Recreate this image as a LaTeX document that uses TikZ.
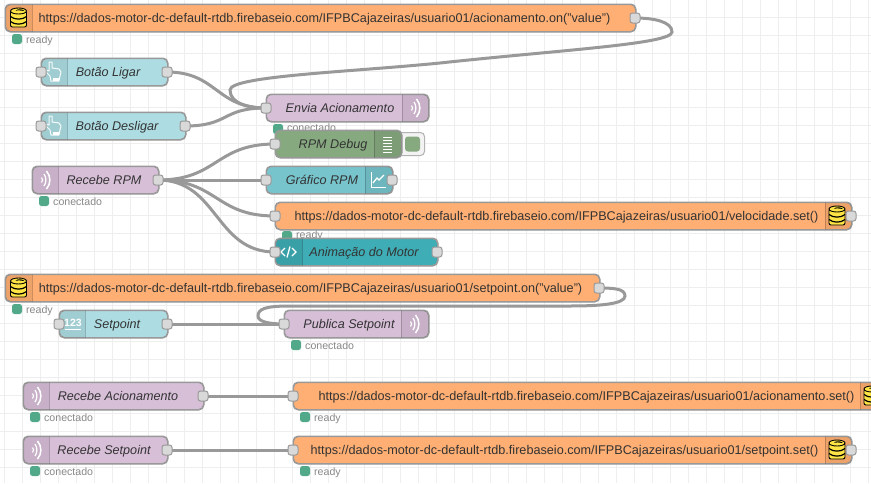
\documentclass[tikz,border=0pt]{standalone}
\usepackage{fontspec}
\setmainfont{Liberation Sans}
\usetikzlibrary{calc}
\pgfdeclarelayer{gridlayer}
\pgfdeclarelayer{wirelayer}
\pgfsetlayers{gridlayer,wirelayer,main}
\definecolor{fborange}{HTML}{FFAF73}
\definecolor{injectblue}{HTML}{ADDDE3}
\definecolor{mqttpurple}{HTML}{D8BFD8}
\definecolor{debuggreen}{HTML}{87A980}
\definecolor{chartblue}{HTML}{77C4CD}
\definecolor{tmplteal}{HTML}{3FADB5}
\definecolor{edgegray}{HTML}{999999}
\definecolor{portgray}{HTML}{D9D9D9}
\definecolor{statgreen}{HTML}{52A98A}
\definecolor{labelgray}{HTML}{333333}
\definecolor{statgray}{HTML}{888888}
\definecolor{gridgray}{HTML}{EEEEEE}
\definecolor{dbyellow}{HTML}{FFE445}
\tikzset{
  box/.style={draw=edgegray,line width=1pt,rounded corners=5pt,inner sep=0pt,minimum height=27pt,anchor=west},
  port/.style={draw=edgegray,fill=portgray,line width=1pt,rounded corners=2.5pt,inner sep=0pt,minimum width=10pt,minimum height=10pt},
  wire/.style={draw=edgegray,line width=3pt},
  lab/.style={text=labelgray,inner sep=0pt,text height=10pt,text depth=3pt,yshift=-1pt,font=\fontsize{12.6}{14}\selectfont\itshape},
  url/.style={text=labelgray,inner sep=0pt,text height=10pt,text depth=3pt,yshift=-1pt,font=\fontsize{12.65}{14}\selectfont},
  stat/.style={text=statgray,inner sep=0pt,text height=8pt,text depth=2.5pt,yshift=-1.5pt,anchor=west,font=\fontsize{10.6}{12}\selectfont},
  dot/.style={fill=statgreen,draw=none,rounded corners=2.5pt,inner sep=0pt,minimum size=10pt},
}
% name, left x, width, centre y, colour, divider x
\newcommand{\flownode}[6]{%
  \node[box,fill=#5,minimum width=#3pt] (#1) at (#2,#4) {};
  \begin{scope}
    \clip[rounded corners=5pt] (#1.north west) rectangle (#1.south east);
    \ifdim #6pt<\dimexpr #2pt+#3pt/2\relax
      \fill[black,opacity=.07] (#1.north west) rectangle (#6,#4+14);
    \else
      \fill[black,opacity=.07] (#6,#4-14) rectangle (#1.south east);
    \fi
    \draw[black,opacity=.2,line width=1pt] (#6,#4-14) -- (#6,#4+14);
  \end{scope}
  \draw[edgegray,line width=1pt,rounded corners=5pt] (#1.north west) rectangle (#1.south east);
}
\newcommand{\statusmark}[4]{% name, x, y, text
  \node[dot] (#1) at (#2,#3) {};
  \node[stat] (#1t) at (#2+9,#3) {#4};
}
\newcommand{\dbicon}[2]{%
  \begin{scope}[shift={(#1,#2)}]
    \draw[black,line width=.9pt,fill=dbyellow,rounded corners=2pt] (-8,-7) rectangle (8,9);
    \draw[black,line width=1.2pt] (-8,-1.5) .. controls (-4,2) and (4,2) .. (8,-1.5);
    \draw[black,line width=1.2pt] (-8,3.5) .. controls (-4,7) and (4,7) .. (8,3.5);
    \draw[black,line width=.9pt,fill=dbyellow] (0,-7) ellipse [x radius=8,y radius=3];
    \fill[black] (-3,-7.5) .. controls (0,-9.5) and (4,-9) .. (6,-7) .. controls (3,-7.6) and (0,-7.6) .. (-3,-7.5);
  \end{scope}}
\newcommand{\wifiicon}[2]{%
  \begin{scope}[shift={(#1,#2)}]
    \draw[white,line width=1.2pt] (-3.5,-2.5) .. controls (-2,-1) and (-2,1) .. (-3.5,2.5);
    \draw[white,line width=1.3pt] (-1,-6) .. controls (1.5,-2.5) and (1.5,2.5) .. (-1,6);
    \draw[white,line width=1.5pt] (1.5,-9) .. controls (6,-3.5) and (6,3.5) .. (1.5,9);
  \end{scope}}
\newcommand{\handicon}[2]{%
  \begin{scope}[shift={(#1,#2)}]
    \draw[white,opacity=.9,line width=1pt,line join=round] (-5,-10) -- (-2,-10) -- (-2,-4) -- (5,-3) -- (7,0) -- (6,4) -- (5,9) -- (-3,9) -- (-4,4) -- (-8,0) -- (-8,-2) -- (-5,-1) -- cycle;
    \fill[white] (-1,6) rectangle (5,9);
  \end{scope}}
\begin{document}
\begin{tikzpicture}[x=1pt,y=-1pt]
\useasboundingbox (0,0) rectangle (871,483);
\clip (0,0) rectangle (871,483);

\flownode{envia}{266}{162}{108}{mqttpurple}{402}
\node[lab] (enviat) at (340,107.5) {Envia Acionamento};
\wifiicon{415}{108}
\node[port] (enviaL) at (266,108) {};
\node[dot] (enviaS) at (278,129) {};
\node[stat,yshift=1.5pt] (enviaSt) at (287,129) {conectado};

\flownode{fb1}{5}{630}{18}{fborange}{32}
\node[url] (fb1t) at (324.5,17.5) {https://dados-motor-dc-default-rtdb.firebaseio.com/IFPBCajazeiras/usuario01/acionamento.on("value")};
\dbicon{18.5}{18}
\node[port] (fb1R) at (635,18) {};
\statusmark{fb1S}{17}{39}{ready}

\flownode{bl}{41}{126}{72}{injectblue}{67}
\node[lab] (blt) at (108,71.5) {Botão Ligar};
\handicon{54}{72}
\node[port] (blL) at (41,72) {};
\node[port] (blR) at (167,72) {};

\flownode{bd}{41}{144}{126}{injectblue}{67}
\node[lab] (bdt) at (117,125.5) {Botão Desligar};
\handicon{54}{126}
\node[port] (bdL) at (41,126) {};
\node[port] (bdR) at (185,126) {};

\node[draw=edgegray!75,fill=gridgray!70,line width=1pt,rounded corners=4pt,minimum width=29pt,minimum height=23pt,inner sep=0pt] (btn) at (410,144) {};
\node[fill=debuggreen,rounded corners=3pt,minimum width=15pt,minimum height=15pt,inner sep=0pt] (btnin) at (412.5,144) {};
\flownode{dbg}{275}{126}{144}{debuggreen}{374}
\node[lab] (dbgt) at (333,143.5) {RPM Debug};
\foreach \yy in {137,140,143,146,149,152} \draw[white,line width=1pt] (383,\yy) -- (392,\yy);
\node[port] (dbgL) at (275,144) {};

\flownode{rr}{32}{126}{180}{mqttpurple}{58}
\node[lab] (rrt) at (104,179.5) {Recebe RPM};
\wifiicon{45}{180}
\node[port] (rrR) at (158,180) {};
\statusmark{rrS}{44}{201}{conectado}

\flownode{graf}{266}{126}{180}{chartblue}{365}
\node[lab] (graft) at (322,179.5) {Gráfico RPM};
\begin{scope}[shift={(378,180)}]
  \draw[white,line width=1pt] (-7,-8) -- (-7,7) -- (8,7);
  \draw[white,line width=1.3pt] (-5,3) -- (-1,-2) -- (1,0) -- (6,-5);
\end{scope}
\node[port] (grafL) at (266,180) {};
\node[port] (grafR) at (392,180) {};

\node[dot] (fb2S) at (287,236) {};
\node[stat,yshift=1.5pt] (fb2St) at (296,236) {ready};
\flownode{fb2}{275}{576}{216}{fborange}{825}
\node[url] (fb2t) at (556.5,215.5) {https://dados-motor-dc-default-rtdb.firebaseio.com/IFPBCajazeiras/usuario01/velocidade.set()};
\dbicon{837}{216}
\node[port] (fb2L) at (275,216) {};
\node[port] (fb2R) at (851,216) {};

\flownode{anim}{275}{162}{252}{tmplteal}{302}
\node[lab] (animt) at (364,251.5) {Animação do Motor};
\draw[white,line width=1.3pt] (285,248) -- (281,252) -- (285,256);
\draw[white,line width=1.3pt] (292,248) -- (296,252) -- (292,256);
\draw[white,line width=1.3pt] (290,246.5) -- (287,257.5);
\node[port] (animL) at (275,252) {};
\node[port] (animR) at (437,252) {};

\flownode{fb3}{5}{594}{288}{fborange}{32}
\node[url] (fb3t) at (310.5,287.5) {https://dados-motor-dc-default-rtdb.firebaseio.com/IFPBCajazeiras/usuario01/setpoint.on("value")};
\dbicon{18.5}{288}
\node[port] (fb3R) at (599,288) {};
\statusmark{fb3S}{17}{309}{ready}

\flownode{sp}{59}{108}{324}{injectblue}{85}
\node[lab] (spt) at (117,323.5) {Setpoint};
\node[text=white,inner sep=0pt,font=\fontsize{10.5}{11}\selectfont\bfseries] (spi) at (73,323) {123};
\draw[white,line width=1.2pt] (65,329.5) -- (81,329.5);
\node[port] (spL) at (59,324) {};
\node[port] (spR) at (167,324) {};

\flownode{pub}{284}{144}{324}{mqttpurple}{401}
\node[lab] (pubt) at (349,323.5) {Publica Setpoint};
\wifiicon{414}{324}
\node[port] (pubL) at (284,324) {};
\statusmark{pubS}{296}{345}{conectado}

\flownode{ra}{23}{180}{396}{mqttpurple}{49}
\node[lab] (rat) at (118,395.5) {Recebe Acionamento};
\wifiicon{36}{396}
\node[port] (raR) at (203,396) {};
\statusmark{raS}{35}{417}{conectado}

\flownode{fb4}{293}{594}{396}{fborange}{860}
\node[url] (fb4t) at (586.5,395.5) {https://dados-motor-dc-default-rtdb.firebaseio.com/IFPBCajazeiras/usuario01/acionamento.set()};
\dbicon{872}{396}
\node[port] (fb4L) at (293,396) {};
\statusmark{fb4S}{305}{417}{ready}

\flownode{rs}{23}{144}{450}{mqttpurple}{49}
\node[lab] (rst) at (104,449.5) {Recebe Setpoint};
\wifiicon{36}{450}
\node[port] (rsR) at (167,450) {};
\statusmark{rsS}{35}{471}{conectado}

\flownode{fb5}{293}{558}{450}{fborange}{825}
\node[url] (fb5t) at (564.5,449.5) {https://dados-motor-dc-default-rtdb.firebaseio.com/IFPBCajazeiras/usuario01/setpoint.set()};
\dbicon{837}{450}
\node[port] (fb5L) at (293,450) {};
\node[port] (fb5R) at (851,450) {};
\statusmark{fb5S}{305}{471}{ready}

\begin{pgfonlayer}{gridlayer}
  \fill[white] (0,0) rectangle (871,483);
  \foreach \gx in {0,...,48} \draw[gridgray,line width=1pt] ({4.5+18*\gx},0) -- ({4.5+18*\gx},483);
  \foreach \gy in {0,...,26} \draw[gridgray,line width=1pt] (0,{17.5+18*\gy}) -- (871,{17.5+18*\gy});
\end{pgfonlayer}

\begin{pgfonlayer}{wirelayer}
  \draw[wire] (fb1R.center) .. controls (655,18) and (672,22) .. (672,32)
     .. controls (672,44) and (560,50) .. (440,63)
     .. controls (350,72) and (230,76) .. (230,90)
     .. controls (230,104) and (250,108) .. (enviaL.center);
  \draw[wire] (blR.center) .. controls +(50,0) and +(-50,0) .. (enviaL.center);
  \draw[wire] (bdR.center) .. controls +(45,0) and +(-45,0) .. (enviaL.center);
  \draw[wire] (rrR.center) .. controls +(60,0) and +(-60,0) .. (dbgL.center);
  \draw[wire] (rrR.center) -- (grafL.center);
  \draw[wire] (rrR.center) .. controls +(60,0) and +(-60,0) .. (fb2L.center);
  \draw[wire] (rrR.center) .. controls +(60,0) and +(-60,0) .. (animL.center);
  \draw[wire] (fb3R.center) .. controls (615,288) and (625,289) .. (625,296)
     .. controls (625,304) and (600,306) .. (570,306)
     -- (290,306) .. controls (265,306) and (258,309) .. (258,316)
     .. controls (258,322) and (270,324) .. (pubL.center);
  \draw[wire] (spR.center) -- (pubL.center);
  \draw[wire] (raR.center) -- (fb4L.center);
  \draw[wire] (rsR.center) -- (fb5L.center);
\end{pgfonlayer}
\end{tikzpicture}
\end{document}
